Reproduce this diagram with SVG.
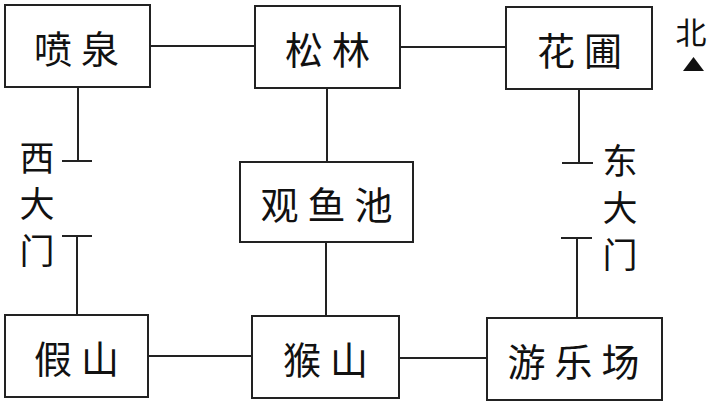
<svg xmlns="http://www.w3.org/2000/svg" width="709" height="407" viewBox="0 0 709 407">
<style>
.box{fill:#fff;stroke:#222;stroke-width:2}
.ln{stroke:#222;stroke-width:2;fill:none}
.t{font-family:"Noto Sans CJK SC","Noto Sans CJK JP",sans-serif;font-size:38px;fill:#111;text-anchor:middle;dominant-baseline:central;letter-spacing:9px}
.v{font-family:"Noto Sans CJK SC","Noto Sans CJK JP",sans-serif;font-size:35px;fill:#111;text-anchor:middle;dominant-baseline:central}
</style>
<rect width="709" height="407" fill="#fff"/>
<g id="connectors">
<line class="ln" x1="150" y1="46" x2="255" y2="46"/>
<line class="ln" x1="400" y1="47" x2="506" y2="47"/>
<line class="ln" x1="78" y1="87" x2="78" y2="161"/>
<line class="ln" x1="62" y1="161" x2="92" y2="161"/>
<line class="ln" x1="62" y1="236" x2="92" y2="236"/>
<line class="ln" x1="77" y1="236" x2="77" y2="315"/>
<line class="ln" x1="327" y1="88" x2="327" y2="162"/>
<line class="ln" x1="326" y1="242" x2="326" y2="316"/>
<line class="ln" x1="579" y1="89" x2="579" y2="163"/>
<line class="ln" x1="562" y1="163" x2="593" y2="163"/>
<line class="ln" x1="561" y1="238" x2="592" y2="238"/>
<line class="ln" x1="577" y1="238" x2="577" y2="318"/>
<line class="ln" x1="148" y1="356" x2="252" y2="356"/>
<line class="ln" x1="399" y1="358" x2="487" y2="358"/>
</g>
<g id="penquan"><rect class="box" x="5" y="5" width="145" height="82"/><text class="t" x="81" y="46">喷泉</text></g>
<g id="songlin"><rect class="box" x="255" y="6" width="145" height="82"/><text class="t" x="332" y="47">松林</text></g>
<g id="huapu"><rect class="box" x="506" y="7" width="146" height="82"/><text class="t" x="584" y="48">花圃</text></g>
<g id="guanyuchi"><rect class="box" x="240" y="162" width="173" height="80"/><text class="t" x="331" y="202">观鱼池</text></g>
<g id="jiashan"><rect class="box" x="5" y="315" width="143" height="82"/><text class="t" x="81" y="356">假山</text></g>
<g id="houshan"><rect class="box" x="252" y="316" width="147" height="82"/><text class="t" x="330" y="357">猴山</text></g>
<g id="youlechang"><rect class="box" x="487" y="318" width="175" height="82"/><text class="t" x="578" y="359">游乐场</text></g>
<g id="ximen"><text class="v" x="37" y="155">西</text><text class="v" x="37" y="201">大</text><text class="v" x="37" y="248">门</text></g>
<g id="dongmen"><text class="v" x="620" y="158">东</text><text class="v" x="620" y="205">大</text><text class="v" x="620" y="252">门</text></g>
<g id="north"><text class="v" x="691" y="30" style="font-size:31px">北</text><polygon points="683,71 704,71 693.5,57" fill="#111"/></g>
</svg>
